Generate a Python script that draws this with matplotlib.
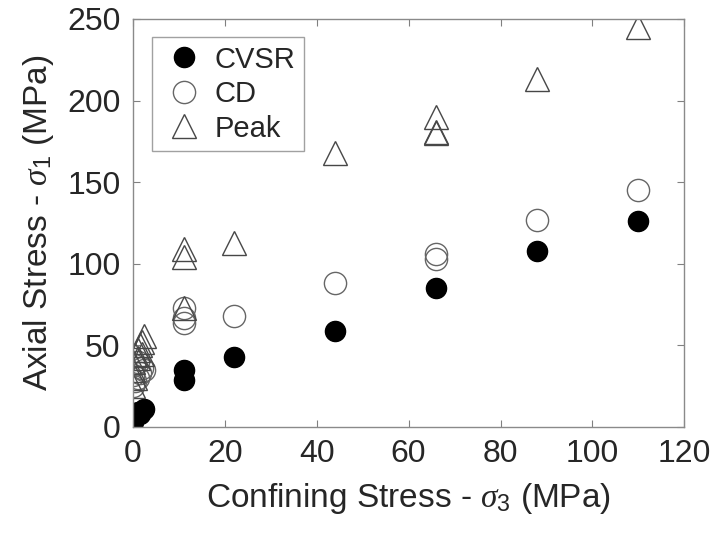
import matplotlib
matplotlib.use("Agg")
import matplotlib.pyplot as plt

plt.rcParams['font.family'] = ['Liberation Sans', 'DejaVu Sans']
plt.rcParams['mathtext.fontset'] = 'custom'
plt.rcParams['mathtext.it'] = 'Liberation Serif:italic'
plt.rcParams['mathtext.rm'] = 'Liberation Sans'

# Confining stress (MPa) and axial stress (MPa) per stress state
cvsr_s3 = [0, 0.5, 1.0, 1.5, 2.5, 11, 11, 22, 44, 66, 88, 110]
cvsr_s1 = [3, 6, 9, 8, 11, 35, 29, 43, 59, 85, 108, 126]

cd_s3 = [0, 0.3, 0.5, 1.0, 1.0, 1.5, 2.0, 2.5, 0.0, 11, 11, 11, 22, 44, 66, 66, 88, 110]
cd_s1 = [25, 38, 28, 30, 40, 33, 36, 35, 32, 73, 67, 64, 68, 88, 106, 103, 127, 145]

peak_s3 = [0, 0, 0, 0.5, 0.5, 1.0, 1.0, 1.5, 2.0, 2.0, 2.5, 11, 11, 11, 22, 44, 66, 66, 66, 88, 110]
peak_s1 = [25, 35, 40, 30, 44, 42, 47, 50, 45, 52, 56, 109, 104, 73, 113, 168, 190, 181, 180, 213, 245]

x_ticks = [0, 20, 40, 60, 80, 100, 120]
y_ticks = [0, 50, 100, 150, 200, 250]

fig = plt.figure(figsize=(7.15, 5.36), dpi=100)
ax = fig.add_axes([0.186, 0.2034, 0.771, 0.7612])

ax.plot(cvsr_s3, cvsr_s1, 'o', ms=14.5, mfc='black', mec='black', mew=1.0,
        linestyle='none', label='CVSR')
ax.plot(cd_s3, cd_s1, 'o', ms=16, mfc='none', mec='#666666', mew=1.0,
        linestyle='none', label='CD')
ax.plot(peak_s3, peak_s1, '^', ms=17, mfc='none', mec='#474747', mew=1.0,
        linestyle='none', label='Peak')

ax.set_xlim(0, 120)
ax.set_ylim(0, 250)
ax.set_xticks(x_ticks)
ax.set_yticks(y_ticks)
ax.tick_params(direction='in', length=5, width=0.8, color='#808080',
               labelsize=23, labelcolor='#262626', top=True, right=True)
ax.tick_params(axis='x', pad=9)
ax.tick_params(axis='y', pad=9)
for sp in ax.spines.values():
    sp.set_color('#8a8a8a')
    sp.set_linewidth(1.0)

ax.set_xlabel(r'Confining Stress - $\sigma_3$ (MPa)', fontsize=24, color='#262626', labelpad=8)
ax.set_ylabel(r'Axial Stress - $\sigma_1$ (MPa)', fontsize=24, color='#262626', labelpad=8)

leg = ax.legend(loc='upper left', bbox_to_anchor=(0.0345, 0.956), fontsize=21,
                frameon=True, fancybox=False, edgecolor='#8a8a8a',
                handletextpad=0.25, labelspacing=0.22, borderpad=0.3,
                markerscale=1.0, handlelength=1.6, borderaxespad=0)
leg.get_frame().set_linewidth(1.0)
for t in leg.get_texts():
    t.set_color('#262626')

fig.savefig('out.png', dpi=100)
